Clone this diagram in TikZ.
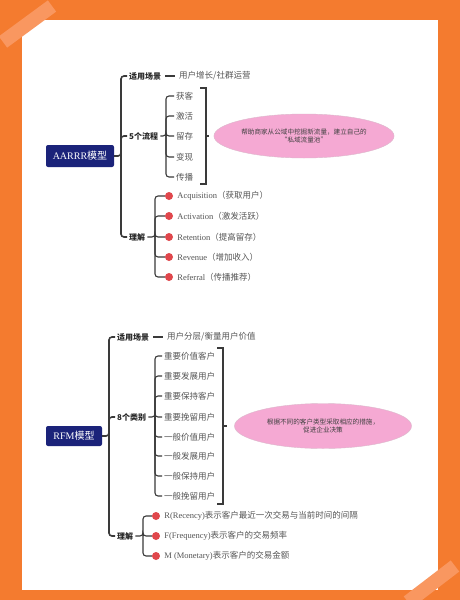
\documentclass[tikz,border=0pt]{standalone}
\usepackage{fontspec}
\setmainfont{Liberation Serif}
\newfontfamily\cjk{Noto Sans CJK SC}
\usetikzlibrary{positioning,shapes.geometric}
\definecolor{framebg}{HTML}{F47B2F}
\definecolor{tapecol}{HTML}{F99760}
\definecolor{navy}{HTML}{1B237A}
\definecolor{dotred}{HTML}{E0474C}
\definecolor{linegray}{HTML}{3A3A3A}
\definecolor{leafgray}{HTML}{555555}
\definecolor{notepink}{HTML}{F5A9D3}
\tikzset{
  model/.style={fill=navy, rounded corners=2pt, text=white, minimum width=68, minimum height=22, inner sep=2pt, font=\fontsize{10}{12}\selectfont},
  branch/.style={anchor=west, inner sep=2pt, text=black!85, font=\cjk\bfseries\fontsize{8}{10}\selectfont},
  leaf/.style={anchor=west, inner sep=2pt, text=leafgray, font=\fontsize{8.5}{10}\selectfont},
  dot/.style={circle, fill=dotred, minimum size=8, inner sep=0pt},
  note/.style={ellipse, fill=notepink, draw=notepink!80!black!60, minimum width=176, minimum height=44, inner sep=1pt, align=center, text=black!75, font=\cjk\fontsize{6.6}{8.5}\selectfont},
  link/.style={draw=linegray, line width=1.6pt, rounded corners=3pt},
  sublink/.style={draw=linegray, line width=1.1pt, rounded corners=3pt},
}
\begin{document}
\begin{tikzpicture}[x=1pt, y=-1pt]
    \useasboundingbox (0,0) rectangle (460,600);
    % Frame
    \fill[framebg] (0,0) rectangle (460,600);
    \fill[white] (22,20) rectangle (438,590);
    \draw[tapecol, line width=14pt] (3,42) -- (52,6);
    \draw[tapecol, line width=14pt] (408,602) -- (455,566);

    % ---------- AARRR ----------
    \node[model] (aarrr) at (80,156) {AARRR{\cjk 模型}};
    \coordinate (t1) at (121,156);
    \node[branch] (scene1) at (127,76) {适用场景};
    \node[leaf] (scene1v) at (177,76) {\cjk 用户增长/社群运营};
    \node[branch] (flow) at (127,136) {5个流程};
    \node[branch] (know1) at (127,237) {理解};
    \draw[link] (aarrr.east) -- (t1) |- (scene1.west);
    \draw[link] (t1) |- (flow.west);
    \draw[link] (t1) |- (know1.west);
    \draw[sublink, shorten <=2pt, shorten >=2pt] (scene1) -- (scene1v);
    % Flow steps
    \coordinate (s1) at (166,136);
    \node[leaf] (get) at (174,96) {\cjk 获客};
    \node[leaf] (act) at (174,116) {\cjk 激活};
    \node[leaf] (ret) at (174,136) {\cjk 留存};
    \node[leaf] (rev) at (174,157) {\cjk 变现};
    \node[leaf] (spr) at (174,177) {\cjk 传播};
    \draw[sublink] (flow.east) -- (s1) |- (get.west);
    \draw[sublink] (s1) |- (act.west);
    \draw[sublink] (s1) |- (ret.west);
    \draw[sublink] (s1) |- (rev.west);
    \draw[sublink] (s1) |- (spr.west);
    % Bracket + note
    \node[note] (note1) at (304,136) {帮助商家从公域中挖掘新流量，建立自己的\\“私域流量池”};
    \coordinate (b1a) at (200,88);
    \coordinate (b1b) at (206,88);
    \coordinate (b1c) at (206,184);
    \coordinate (b1d) at (200,184);
    \coordinate (b1m) at (206,136);
    \draw[sublink, rounded corners=0pt] (b1a) -- (b1b) -- (b1c) -- (b1d);
    \draw[sublink, shorten >=5pt] (b1m) -- (note1.west);
    % Meaning
    \coordinate (s2) at (155,237);
    \node[dot] (acqdot) at (169,196) {};
    \node[dot] (actdot) at (169,216) {};
    \node[dot] (retdot) at (169,237) {};
    \node[dot] (revdot) at (169,257) {};
    \node[dot] (refdot) at (169,277) {};
    \node[leaf, right=2pt of acqdot] (acq) {Acquisition{\cjk （获取用户）}};
    \node[leaf, right=2pt of actdot] (actv) {Activation{\cjk （激发活跃）}};
    \node[leaf, right=2pt of retdot] (rete) {Retention{\cjk （提高留存）}};
    \node[leaf, right=2pt of revdot] (reve) {Revenue{\cjk （增加收入）}};
    \node[leaf, right=2pt of refdot] (refe) {Referral{\cjk （传播推荐）}};
    \draw[sublink] (know1.east) -- (s2) |- (acqdot.west);
    \draw[sublink] (s2) |- (actdot.west);
    \draw[sublink] (s2) |- (retdot.west);
    \draw[sublink] (s2) |- (revdot.west);
    \draw[sublink] (s2) |- (refdot.west);

    % ---------- RFM ----------
    \node[model, minimum width=56, minimum height=20] (rfm) at (74,436) {RFM{\cjk 模型}};
    \coordinate (t2) at (109,436);
    \node[branch] (scene2) at (115,337) {适用场景};
    \node[leaf] (scene2v) at (165,337) {\cjk 用户分层/衡量用户价值};
    \node[branch] (cat) at (115,417) {8个类别};
    \node[branch] (know2) at (115,536) {理解};
    \draw[link] (rfm.east) -- (t2) |- (scene2.west);
    \draw[link] (t2) |- (cat.west);
    \draw[link] (t2) |- (know2.west);
    \draw[sublink, shorten <=2pt, shorten >=2pt] (scene2) -- (scene2v);
    % Categories
    \coordinate (s3) at (155,417);
    \node[leaf] (c1) at (162,356) {\cjk 重要价值客户};
    \node[leaf] (c2) at (162,376) {\cjk 重要发展用户};
    \node[leaf] (c3) at (162,396) {\cjk 重要保持客户};
    \node[leaf] (c4) at (162,417) {\cjk 重要挽留用户};
    \node[leaf] (c5) at (162,437) {\cjk 一般价值用户};
    \node[leaf] (c6) at (162,456) {\cjk 一般发展用户};
    \node[leaf] (c7) at (162,476) {\cjk 一般保持用户};
    \node[leaf] (c8) at (162,496) {\cjk 一般挽留用户};
    \draw[sublink] (cat.east) -- (s3) |- (c1.west);
    \draw[sublink] (s3) |- (c2.west);
    \draw[sublink] (s3) |- (c3.west);
    \draw[sublink] (s3) |- (c4.west);
    \draw[sublink] (s3) |- (c5.west);
    \draw[sublink] (s3) |- (c6.west);
    \draw[sublink] (s3) |- (c7.west);
    \draw[sublink] (s3) |- (c8.west);
    % Bracket + note
    \node[note, minimum width=177, minimum height=45] (note2) at (323,426) {根据不同的客户类型采取相应的措施，\\促进企业决策};
    \coordinate (b2a) at (217,348);
    \coordinate (b2b) at (223,348);
    \coordinate (b2c) at (223,504);
    \coordinate (b2d) at (217,504);
    \coordinate (b2m) at (223,426);
    \draw[sublink, rounded corners=0pt] (b2a) -- (b2b) -- (b2c) -- (b2d);
    \draw[sublink, shorten >=7pt] (b2m) -- (note2.west);
    % Meaning
    \coordinate (s4) at (143,536);
    \node[dot] (rdot) at (156,516) {};
    \node[dot] (fdot) at (156,536) {};
    \node[dot] (mdot) at (156,556) {};
    \node[leaf, right=2pt of rdot] (rtxt) {R(Recency){\cjk 表示客户最近一次交易与当前时间的间隔}};
    \node[leaf, right=2pt of fdot] (ftxt) {F(Frequency){\cjk 表示客户的交易频率}};
    \node[leaf, right=2pt of mdot] (mtxt) {M (Monetary){\cjk 表示客户的交易金额}};
    \draw[sublink] (know2.east) -- (s4) |- (rdot.west);
    \draw[sublink] (s4) |- (fdot.west);
    \draw[sublink] (s4) |- (mdot.west);
\end{tikzpicture}
\end{document}
